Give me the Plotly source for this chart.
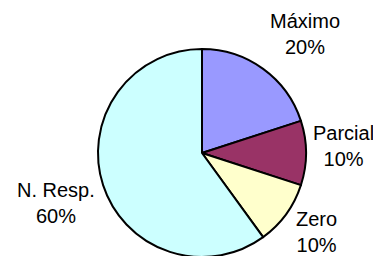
import plotly.graph_objects as go

labels = ["Máximo", "Parcial", "Zero", "N. Resp."]
values = [20, 10, 10, 60]
colors = ["#9999FF", "#993366", "#FFFFCC", "#CCFFFF"]

W, H = 381, 256
OFF = 8  # default page body margin shifts the figure by 8px
# label centre positions in page pixels (x from left, y from top)
label_pos = [(305, 34), (343, 146), (316, 231.5), (56, 202.5)]
cx, cy, r = 202 - OFF, 153 - OFF, 104

total = sum(values)
fig = go.Figure(go.Pie(
    labels=labels, values=values, sort=False, direction="clockwise", rotation=0,
    marker=dict(colors=colors, line=dict(color="black", width=2)),
    textinfo="none", hoverinfo="label+percent", showlegend=False,
    domain=dict(x=[(cx - r) / W, (cx + r) / W], y=[1 - (cy + r) / H, 1 - (cy - r) / H]),
))

for lab, v, (px, py) in zip(labels, values, label_pos):
    fig.add_annotation(
        text=f"{lab}<br>{round(v / total * 100)}%",
        x=(px - OFF) / W, y=1 - (py - OFF) / H, xref="paper", yref="paper",
        xanchor="center", yanchor="middle", showarrow=False,
        font=dict(family="Liberation Sans, Arial, sans-serif", size=20, color="black"),
    )

fig.update_layout(
    width=W, height=H, margin=dict(l=0, r=0, t=0, b=0),
    paper_bgcolor="white", plot_bgcolor="white",
)
fig.write_html("out.html")
